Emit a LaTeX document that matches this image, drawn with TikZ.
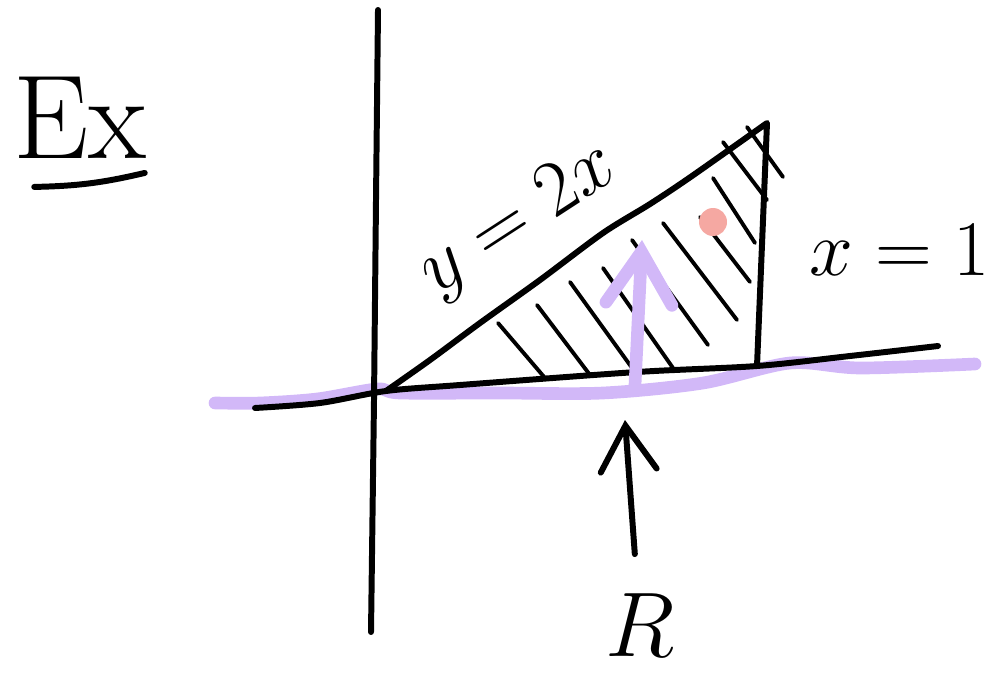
\documentclass[tikz,border=0pt]{standalone}
\usepackage{amsmath, amssymb}
\usepackage{tikz}
\usetikzlibrary{arrows.meta, positioning, calc}
\usepackage{xcolor}
\definecolor{lila}{HTML}{D2B8F8}
\definecolor{rosa}{HTML}{F5A8A2}

\begin{document}
\begin{tikzpicture}[
        x=0.01cm, y=-0.01cm,
        stroke/.style={line width=1.7pt, line cap=round, line join=round},
        hatch/.style={line width=1.1pt, line cap=round},
        lilac/.style={draw=lila, line width=3.6pt, line cap=round, line join=round},
        lbl/.style={font=\Huge, inner sep=1pt},
        arrow/.style={stroke, -{Straight Barb[length=4.5mm, width=5.6mm, line cap=round]}},
        lilacarrow/.style={lilac, -{Straight Barb[length=5.2mm, width=6.6mm, line cap=round]}}
    ]
        \useasboundingbox (0,0) rectangle (991,673);

        % ejes
        \draw[lilac] plot[smooth] coordinates {(215,403) (260,403) (317,399) (377,389) (400,393) (500,393) (603,393) (703,383) (790,363) (860,368) (975,364)};
        \draw[stroke] (378,10) -- (376,200) -- (374,400) -- (371,632);
        \draw[stroke] plot[smooth] coordinates {(255,408) (320,403) (386,391) (460,385) (637,372) (757,366) (850,356) (938,346)};

        % region R
        \coordinate (O) at (386,391);
        \coordinate (top) at (767,123);
        \coordinate (foot) at (757,366);
        \draw[stroke] plot[smooth] coordinates {(O) (430,360) (480,323) (540,280) (603,233) (650,204) (692,176) (top)} -- (foot);

        \foreach \xa/\ya/\xb/\yb in {498/323/545/378, 537/305/590/375, 570/282/635/372,
                                     603/268/673/368, 632/240/708/345, 663/223/737/320,
                                     700/217/750/282, 713/178/755/243, 723/142/767/200,
                                     747/127/783/177}
            \draw[hatch] (\xa,\ya) -- (\xb,\yb);

        \fill[rosa] (713,222) circle (14);

        % flecha dentro de R
        \coordinate (base) at (635,385);
        \coordinate (tip) at (642,240);
        \draw[lilacarrow] (base) -- (tip);

        % etiquetas
        \node[lbl, font=\fontsize{34}{40}\selectfont] (ex) at (80,118) {Ex};
        \draw[stroke] ($(ex.south west)+(25,24)$) to[bend right=6] ($(ex.south east)+(-6,10)$);

        \node[lbl, rotate=33, scale=0.9] (curve) at (519,221) {$y=2x$};
        \node[lbl, scale=0.9] (line) at (900,250) {$x=1$};
        \node[lbl, scale=1.05] (R) at (640,625) {$R$};
        \coordinate (Rtip) at (625,420);
        \draw[arrow, shorten <=10pt] (R) -- (Rtip);

    \end{tikzpicture}
\end{document}
